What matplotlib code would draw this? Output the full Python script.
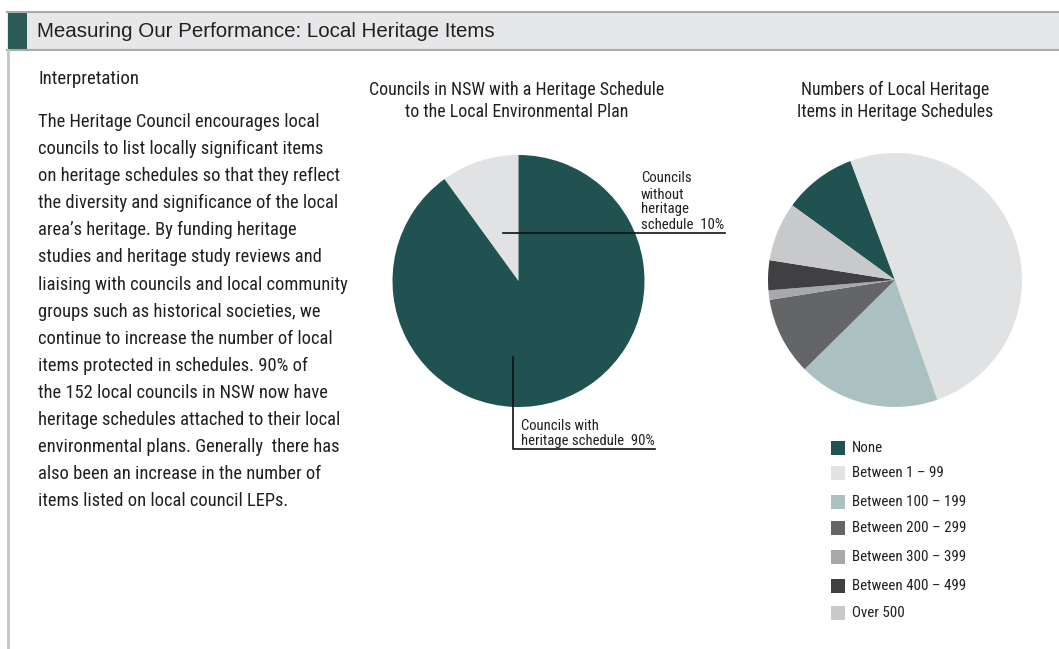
import matplotlib
matplotlib.use('Agg')
from matplotlib import pyplot as plt
from matplotlib import font_manager
from matplotlib.patches import Rectangle
from matplotlib.lines import Line2D

# data
nsw_labels = ['Councils\nwithout\nheritage\nschedule', 'Councils with\nheritage schedule']
nsw_share = [10, 90]
nsw_colors = ['#e1e2e4', '#1f5250']

item_labels = ['None', 'Between 1 \u2013 99', 'Between 100 \u2013 199', 'Between 200 \u2013 299',
               'Between 300 \u2013 399', 'Between 400 \u2013 499', 'Over 500']
item_share = [9.3, 50.3, 18.0, 9.9, 1.2, 3.8, 7.5]
item_colors = ['#1f5250', '#e1e2e4', '#abc0c0', '#646567', '#a7a8aa', '#404042', '#c8c9cb']

body_lines = ["The Heritage Council encourages local",
              "councils to list locally significant items",
              "on heritage schedules so that they reflect",
              "the diversity and significance of the local",
              "area\u2019s heritage. By funding heritage",
              "studies and heritage study reviews and",
              "liaising with councils and local community",
              "groups such as historical societies, we",
              "continue to increase the number of local",
              "items protected in schedules. 90% of",
              "the 152 local councils in NSW now have",
              "heritage schedules attached to their local",
              "environmental plans. Generally  there has",
              "also been an increase in the number of",
              "items listed on local council LEPs."]

W, H = 1059, 649
installed = set(f.name for f in font_manager.fontManager.ttflist)

def pick(cands):
    for c in cands:
        if c in installed:
            return c
    return 'DejaVu Sans'

NARROW = pick(['Nimbus Sans Narrow', 'Liberation Sans Narrow', 'Arial Narrow', 'Roboto Condensed',
               'Archivo Narrow', 'PT Sans Narrow', 'Open Sans Condensed', 'IBM Plex Sans Condensed',
               'Fira Sans Condensed', 'Encode Sans Condensed', 'Pragati Narrow'])
REG = pick(['Nimbus Sans', 'Liberation Sans', 'Arimo', 'DejaVu Sans'])

fig = plt.figure(figsize=(W / 100, H / 100), dpi=100)
renderer = fig.canvas.get_renderer()
INK = '#231f20'

def fx(x):
    return x / W

def fy(y):
    return 1 - y / H

def size_for(s, fam, width_px):
    t = fig.text(0, 0, s, family=fam, fontsize=10)
    w = t.get_window_extent(renderer).width
    t.remove()
    return 10 * width_px / w

def put(x, y, s, fam, size, **kw):
    kw.setdefault('va', 'baseline')
    kw.setdefault('color', INK)
    return fig.text(fx(x), fy(y), s, family=fam, fontsize=size, **kw)

# header band
fig.add_artist(Rectangle((fx(7), fy(50)), fx(W - 7), 38 / H, transform=fig.transFigure,
                         facecolor='#e6e7e8', edgecolor='none'))
fig.add_artist(Line2D([fx(7), 1], [fy(12), fy(12)], transform=fig.transFigure, color='#a8a9ab', lw=1.5))
fig.add_artist(Line2D([fx(7), 1], [fy(50), fy(50)], transform=fig.transFigure, color='#a8a9ab', lw=1.5))
fig.add_artist(Rectangle((fx(8), fy(50)), fx(19), 38 / H, transform=fig.transFigure,
                         facecolor='#2b5a57', edgecolor='none'))
fig.add_artist(Line2D([fx(8), fx(8)], [fy(50), 0], transform=fig.transFigure, color='#c4c5c7', lw=2))
head = 'Measuring Our Performance: Local Heritage Items'
put(37, 37, head, REG, size_for(head, REG, 460))

# left text
put(38, 84, 'Interpretation', NARROW, size_for('Interpretation', NARROW, 100))
bsize = size_for(body_lines[0], NARROW, 280)
for i, line in enumerate(body_lines):
    put(38, 127 + i * 27.1, line, NARROW, bsize)

# pie 1
r1 = 126
ax1 = fig.add_axes([fx(518.5 - r1), fy(281 + r1), 2 * r1 / W, 2 * r1 / H])
ax1.pie(nsw_share, colors=nsw_colors, startangle=90, counterclock=True,
        wedgeprops=dict(linewidth=0))
ax1.set_xlim(-1, 1)
ax1.set_ylim(-1, 1)
ax1.set_aspect('equal')
ax1.axis('off')
t1 = ['Councils in NSW with a Heritage Schedule', 'to the Local Environmental Plan']
tsize = size_for(t1[0], NARROW, 293)
put(517, 95, t1[0], NARROW, tsize, ha='center')
put(517, 117, t1[1], NARROW, tsize, ha='center')

# leader lines
fig.add_artist(Line2D([fx(503), fx(725)], [fy(233), fy(233)], transform=fig.transFigure,
                      color='#111111', lw=1.2))
fig.add_artist(Line2D([fx(513), fx(513), fx(655)], [fy(357), fy(449), fy(449)],
                      transform=fig.transFigure, color='#111111', lw=1.2))
lab0 = nsw_labels[0].split('\n')
lab0[-1] = lab0[-1] + '  %d%%' % nsw_share[0]
lsize = size_for(lab0[-1], NARROW, 82)
for yy, s in zip([182.5, 199, 213, 229], lab0):
    put(641, yy, s, NARROW, lsize)
lab1 = nsw_labels[1].split('\n')
lab1[-1] = lab1[-1] + '  %d%%' % nsw_share[1]
lsize1 = size_for(lab1[-1], NARROW, 132)
for yy, s in zip([430, 445], lab1):
    put(521, yy, s, NARROW, lsize1)

# pie 2
r2 = 127
ax2 = fig.add_axes([fx(895 - r2), fy(280 + r2), 2 * r2 / W, 2 * r2 / H])
ax2.pie(item_share, colors=item_colors, startangle=144, counterclock=False,
        wedgeprops=dict(linewidth=0))
ax2.set_xlim(-1, 1)
ax2.set_ylim(-1, 1)
ax2.set_aspect('equal')
ax2.axis('off')
t2 = ['Numbers of Local Heritage', 'Items in Heritage Schedules']
t2size = size_for(t2[1], NARROW, 195)
put(895, 95, t2[0], NARROW, t2size, ha='center')
put(895, 117, t2[1], NARROW, t2size, ha='center')

# legend
rows = [448, 473, 502, 528, 557, 586, 613]
gsize = size_for(item_labels[2], NARROW, 113)
for lab, col, yy in zip(item_labels, item_colors, rows):
    fig.add_artist(Rectangle((fx(831), fy(yy + 7)), 14 / W, 14 / H, transform=fig.transFigure,
                             facecolor=col, edgecolor='none'))
    put(852, yy + 4, lab, NARROW, gsize)

fig.savefig('out.png', dpi=100)
